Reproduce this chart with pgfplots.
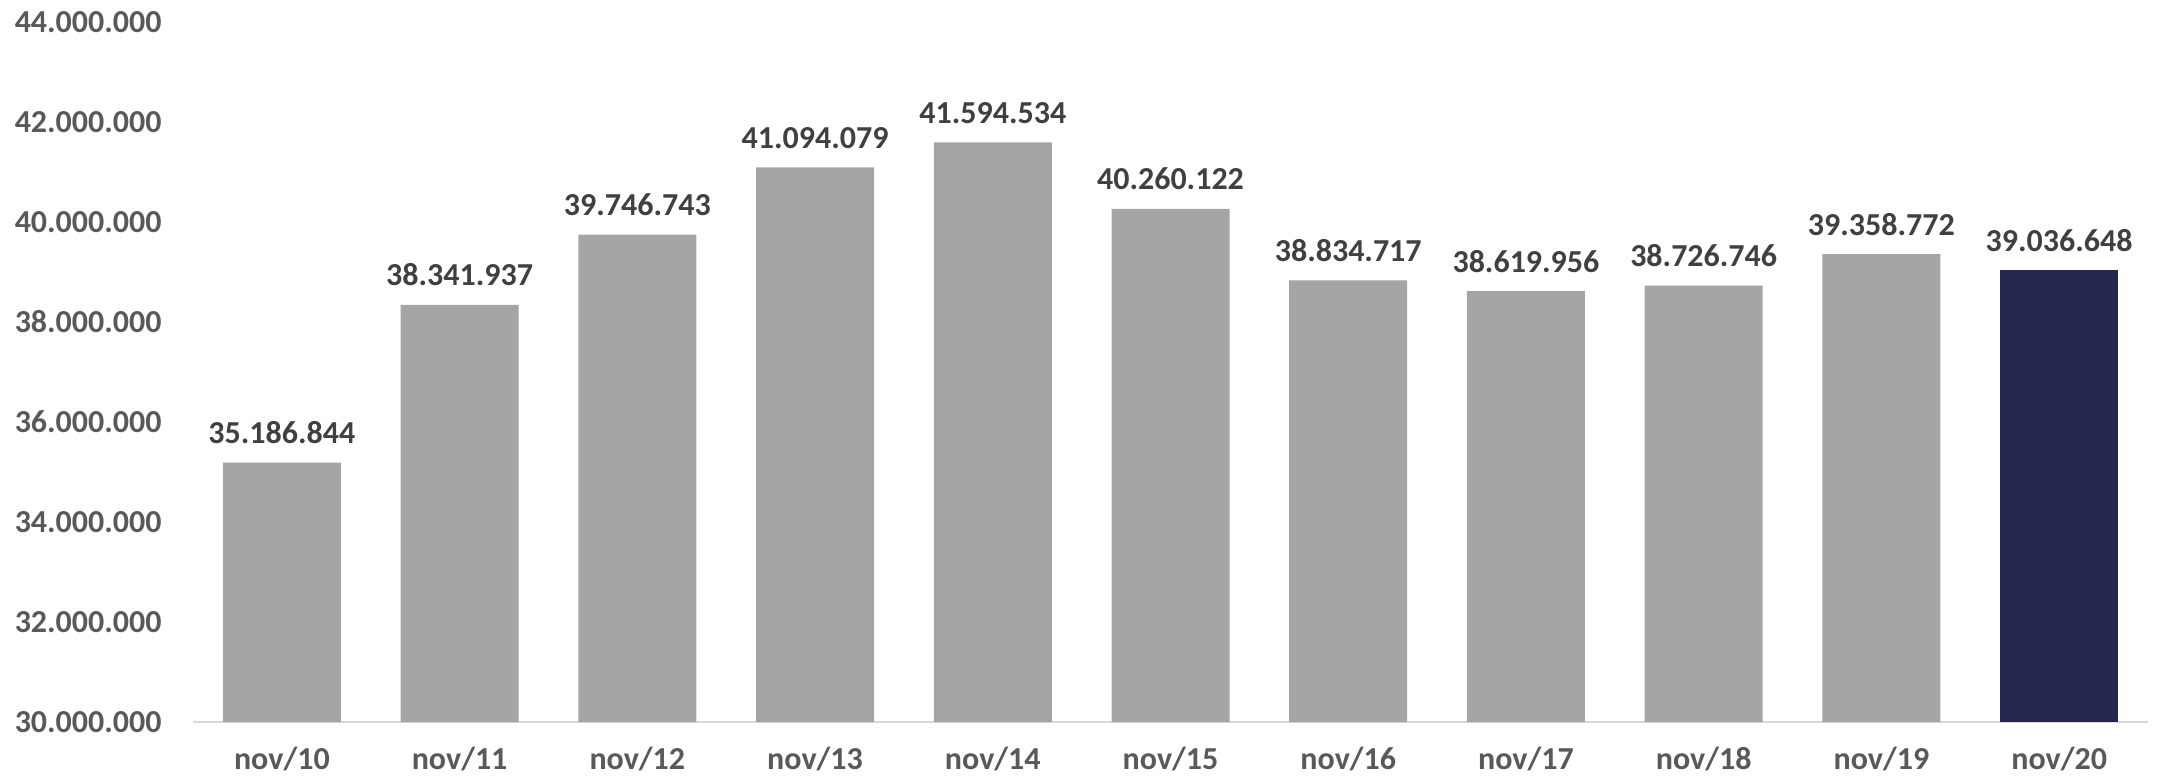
\documentclass[border=0pt]{standalone}
\usepackage{pgfplots}
\pgfplotsset{compat=1.18}
\usepackage{fontspec}
\setmainfont{Carlito}
\definecolor{bargray}{HTML}{A5A5A5}
\definecolor{barnavy}{HTML}{262751}
\definecolor{ticktext}{HTML}{595959}
\definecolor{valtext}{HTML}{404040}
\definecolor{axisgray}{HTML}{D9D9D9}

\begin{document}
\begin{tikzpicture}
\begin{axis}[
  name=main,
  scale only axis,
  width=977.5pt,
  height=350pt,
  ybar,
  bar width=59pt,
  bar shift=0pt,
  xmin=-0.5, xmax=10.5,
  ymin=30, ymax=44,
  xtick={0,...,10},
  xticklabels={nov/10,nov/11,nov/12,nov/13,nov/14,nov/15,nov/16,nov/17,nov/18,nov/19,nov/20},
  ytick={30,32,34,36,38,40,42,44},
  yticklabels={30.000.000,32.000.000,34.000.000,36.000.000,38.000.000,40.000.000,42.000.000,44.000.000},
  axis x line*=bottom,
  axis y line*=left,
  x axis line style={-,draw=axisgray,line width=1.2pt},
  y axis line style={draw=none},
  tick style={draw=none},
  x tick label style={font=\fontsize{16}{18}\selectfont\bfseries,text=ticktext,anchor=base,inner sep=0pt,yshift=-19.5pt},
  y tick label style={font=\fontsize{16}{18}\selectfont\bfseries,text=ticktext,anchor=east,inner sep=0pt,xshift=-15.5pt},
  point meta=explicit symbolic,
  nodes near coords,
  nodes near coords style={font=\fontsize{16}{18}\selectfont\bfseries,text=valtext,anchor=base,inner sep=0pt,yshift=9.5pt},
]
\addplot[fill=bargray,draw=none] coordinates {
  (0,35.186844) [35.186.844]
  (1,38.341937) [38.341.937]
  (2,39.746743) [39.746.743]
  (3,41.094079) [41.094.079]
  (4,41.594534) [41.594.534]
  (5,40.260122) [40.260.122]
  (6,38.834717) [38.834.717]
  (7,38.619956) [38.619.956]
  (8,38.726746) [38.726.746]
  (9,39.358772) [39.358.772]
};
\addplot[fill=barnavy,draw=none] coordinates {
  (10,39.036648) [39.036.648]
};
\end{axis}
\path (main.south west) ++(-96.5pt,-28pt) coordinate (bbl);
\path (main.north east) ++(5.5pt,11pt) coordinate (bbr);
\path (bbl) rectangle (bbr);
\end{tikzpicture}
\end{document}
